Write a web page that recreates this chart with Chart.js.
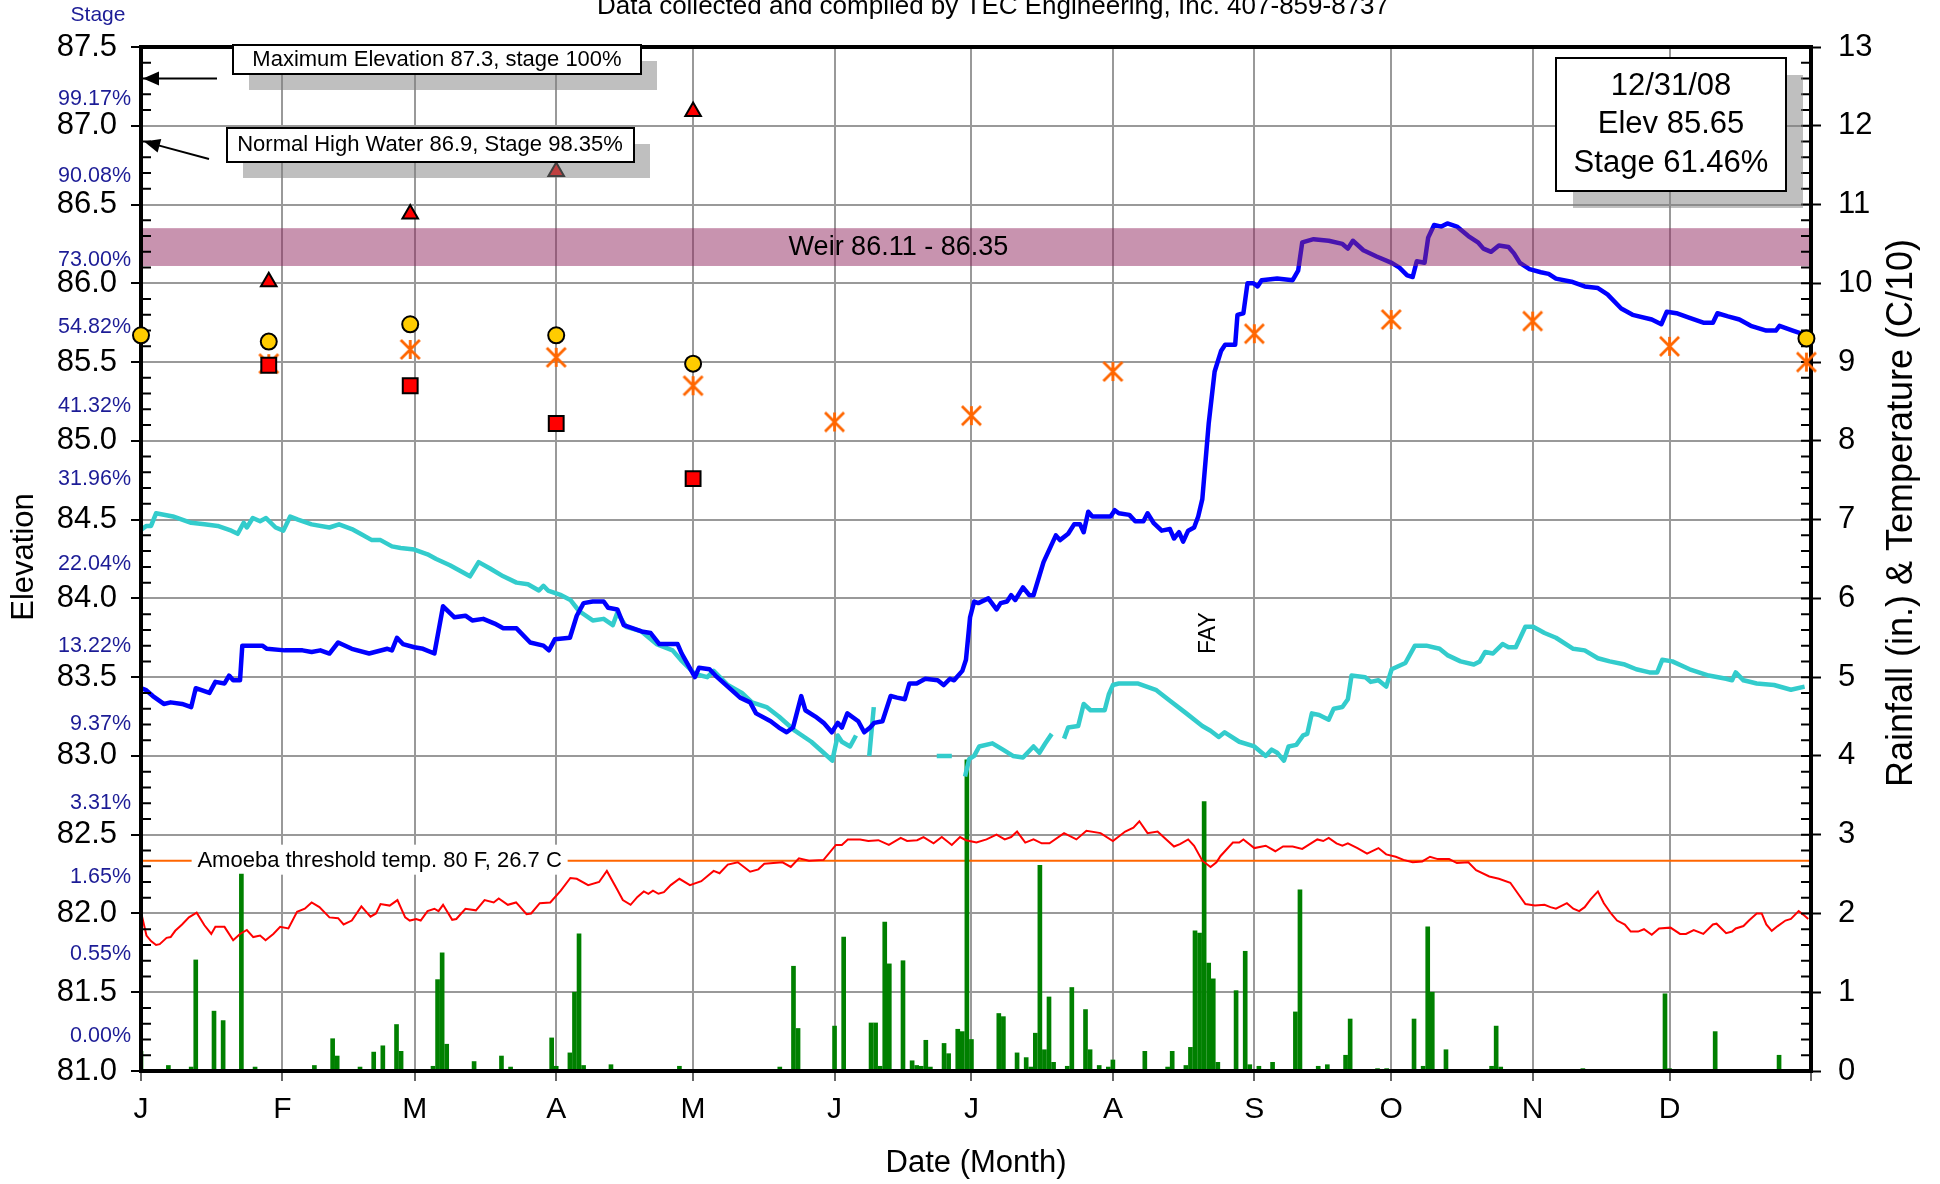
<!DOCTYPE html>
<html>
<head>
<meta charset="utf-8">
<script src="https://cdn.jsdelivr.net/npm/chart.js@4.4.0/dist/chart.umd.min.js"></script>
<style>
  html, body { margin: 0; padding: 0; background: #fff; overflow: hidden; }
</style>
</head>
<body>
<canvas id="lakeChart" width="1940" height="1184"></canvas>
<script>
// ---- data (x = day of year, 0 = Jan 1) ----
const monthStart = [0, 31, 60, 91, 121, 152, 182, 213, 244, 274, 305, 335, 366];
const monthLabels = ["J", "F", "M", "A", "M", "J", "J", "A", "S", "O", "N", "D", ""];

// lake elevation (blue)
const elevDay = [0,1,2.6,5,6.5,9,11,12,15,16.3,18.3,19.3,20.2,21.7,22.2,26.6,27.6,31.5,35.4,37.4,39.3,41.3,43.2,46.2,50,54,55,56.1,57.4,59.9,61.8,64.3,66.2,68.7,71.1,72.6,75,77.5,79.4,82.3,85.3,88.2,89.4,90.7,94,95.5,97,99,101.4,102.4,104.4,105.8,109.7,111.7,113.6,117.6,118.5,121.4,122.3,124.6,125.9,128.6,131.3,133.5,134.8,138,139.8,141.5,142.9,144.7,145.6,147.8,149.6,151.4,152.7,153.6,154.8,157.2,158.5,159.8,160.7,162.5,164.3,165.7,167.4,168.4,170,171.9,174.6,175.9,177.3,178.2,180,180.8,181.7,182.6,183.5,185.7,187.5,188.4,189.8,190.7,191.6,193.3,194.7,195.6,197.8,200.5,201.4,203.2,204.5,205.8,206.6,207.6,208.5,212.5,213.4,214.3,216.6,217.9,219.7,220.6,221.9,223.7,225.5,226.4,227.5,228.4,229.5,230.8,231.7,232.6,234,235.3,236.7,237.6,239.8,240.3,241.6,242.5,243.8,244.7,245.6,249,252.4,253.6,254.5,257,260.3,263.3,264.5,265.6,267.9,270.8,274.1,275.8,277.5,278.7,279.6,281.3,282.1,283.4,285,286.3,288.4,290.9,293,294.2,295.9,297.6,299.7,300.9,302.2,304.3,306.8,308.5,310.1,313.5,316.4,319.3,321.4,324.4,326.9,331.1,333.2,334.4,336.5,339.4,342.4,344.5,345.5,347.8,350.3,352.8,356.2,358.3,359.1,362,365.1];
const elevVal = [83.43,83.42,83.38,83.33,83.34,83.33,83.31,83.43,83.40,83.47,83.46,83.51,83.48,83.48,83.70,83.70,83.68,83.67,83.67,83.66,83.67,83.65,83.72,83.68,83.65,83.68,83.67,83.75,83.71,83.69,83.68,83.65,83.95,83.88,83.89,83.86,83.87,83.84,83.81,83.81,83.72,83.70,83.67,83.74,83.75,83.89,83.97,83.98,83.98,83.94,83.93,83.83,83.79,83.78,83.71,83.71,83.65,83.50,83.56,83.55,83.51,83.44,83.37,83.34,83.27,83.22,83.18,83.15,83.18,83.38,83.29,83.25,83.21,83.15,83.21,83.18,83.27,83.22,83.15,83.18,83.21,83.22,83.38,83.37,83.36,83.46,83.46,83.49,83.48,83.45,83.49,83.48,83.54,83.61,83.88,83.98,83.97,84.00,83.93,83.97,83.98,84.02,83.99,84.07,84.02,84.02,84.23,84.40,84.37,84.41,84.47,84.47,84.42,84.55,84.52,84.52,84.56,84.54,84.53,84.49,84.49,84.54,84.48,84.43,84.44,84.38,84.42,84.36,84.43,84.45,84.52,84.63,85.11,85.44,85.57,85.61,85.61,85.80,85.81,86.00,86.00,85.98,86.02,86.03,86.02,86.08,86.26,86.28,86.27,86.25,86.22,86.27,86.21,86.17,86.13,86.10,86.05,86.04,86.14,86.13,86.29,86.37,86.36,86.38,86.36,86.30,86.26,86.22,86.20,86.24,86.23,86.19,86.13,86.09,86.07,86.06,86.03,86.01,85.98,85.97,85.93,85.84,85.80,85.77,85.74,85.82,85.81,85.78,85.75,85.75,85.81,85.79,85.77,85.73,85.70,85.70,85.73,85.70,85.67];

// second level trace (cyan), null = no reading
const levelDay = [0.2,1.2,2.2,3.3,7,11,13.9,16.8,19.8,21.2,22.5,23.2,24.5,26.1,27.4,29.5,31.2,32.7,34.4,37.4,41.3,43.4,46.2,48.1,50.6,52.5,55,56.9,59.9,62.8,64.7,67.7,69.6,72.1,74,76.5,79.4,82.3,84.8,87.2,88.2,89.2,92.1,94.1,96,99,101.4,103.4,104.4,106.3,109.7,113,116.5,118.3,121.4,124.1,125.5,128.6,131.7,133.9,137.1,139.8,143.3,146.9,149.6,151.5,152.7,153.6,155.4,156.7,157.5,159.6,160.6,161,174.4,177.7,179,180.6,181.5,182.6,183.7,186.6,188.9,191.1,193.3,195.6,196.9,198.2,199.6,200.8,202.3,203.2,205.4,206.6,208.1,211.2,212.1,213,214.3,218.4,222.4,225.5,229.1,232.6,234.4,236.2,237.5,240.7,244,246.5,247.8,249,250.5,251.5,253.2,254.7,255.6,256.6,258.2,260.3,261.4,263.3,264.5,265.3,268.3,269.5,271.2,272.9,274.1,277.1,279.2,281.7,284.6,286.3,289.2,292.1,293.4,294.6,296.3,298.4,299.7,301.3,303.4,305.1,307.6,310.1,313.9,316.4,319.3,321.9,325.2,327.7,330.6,332.3,333.4,335.6,339.4,343.6,347.4,348.7,349.5,351.2,354.1,357.9,361.6,364.6];
const levelVal = [84.44,84.46,84.46,84.54,84.52,84.48,84.47,84.46,84.43,84.41,84.48,84.45,84.51,84.49,84.51,84.45,84.43,84.52,84.50,84.47,84.45,84.47,84.44,84.41,84.37,84.37,84.33,84.32,84.31,84.28,84.25,84.21,84.18,84.14,84.23,84.19,84.14,84.10,84.09,84.05,84.08,84.05,84.02,83.99,83.92,83.86,83.87,83.83,83.91,83.82,83.79,83.71,83.67,83.61,83.52,83.50,83.54,83.45,83.40,83.34,83.31,83.25,83.16,83.09,83.02,82.97,83.13,83.09,83.06,83.13,null,83.00,83.31,null,83.00,83.00,null,82.87,82.98,83.00,83.06,83.08,83.04,83.00,82.99,83.06,83.02,83.08,83.14,null,83.11,83.18,83.19,83.33,83.29,83.29,83.39,83.45,83.46,83.46,83.42,83.35,83.27,83.19,83.16,83.12,83.15,83.09,83.06,83.00,83.04,83.02,82.97,83.06,83.07,83.13,83.14,83.27,83.26,83.23,83.30,83.31,83.36,83.51,83.50,83.47,83.48,83.44,83.55,83.59,83.70,83.70,83.68,83.64,83.60,83.58,83.60,83.66,83.65,83.71,83.69,83.69,83.82,83.82,83.78,83.75,83.68,83.67,83.62,83.60,83.58,83.55,83.53,83.53,83.61,83.60,83.55,83.51,83.49,83.48,83.53,83.48,83.46,83.45,83.42,83.44];

// water temperature, C/10 (red, right axis)
const tempDay = [0,1.2,2.2,3.3,4.1,5.6,6.5,7.5,9,10.5,12.2,13.9,15.4,16.3,18.3,20.2,21.7,23.2,24.6,26.1,27.3,29,30.5,32.3,34.2,35.9,37.4,39.1,41.3,43.2,44.4,46.2,48.3,50.3,51.5,52.5,54.5,56.2,57.9,58.9,60.3,61.3,62.8,64.3,65.2,66.2,68.2,69.1,71.1,73.4,75.3,77.3,78.4,80.4,82.2,84.5,85.5,87.4,89.7,92,94.1,95.5,98,100.4,102.1,104.3,105.6,107.3,108.8,110.2,111.2,112.2,113.4,114.6,116.1,118,120.3,122.8,125.5,126.8,128.6,130.8,133.5,135.3,136.6,140.6,142.4,144.2,146.4,149.6,152.3,153.6,154.9,157.6,159.4,161.6,163.9,166.5,167.9,170.1,171.5,173.7,175.5,177.7,179.5,180.8,183.1,185.3,187.5,189.3,190.7,192,193.8,195.6,197.4,199.1,202.3,205,207.2,210.3,213,215.7,217.5,218.8,220.6,222.8,224.1,226.4,227.7,229.5,230.8,232.6,234.4,235.7,236.6,239.3,240.7,241.6,244,246.5,248.6,250.3,252.4,254.5,257.8,259.1,260.3,262,263.3,264.5,266.6,268.7,271.2,272.9,275,276.7,278.7,280.8,282.5,284.2,286.7,288.4,290.9,292.6,295.5,297.6,300.1,301.8,303.4,305.5,307.6,308.9,310.1,312.5,313.9,315.2,316.4,317.7,319.3,320.6,322.3,323.5,325.2,326.5,328.1,329.4,331.1,332.7,335.2,337.3,338.6,340.3,342.4,344.5,345.3,347.4,348.7,349.5,351.2,352.4,354.1,355.2,356.2,357.4,358.7,360.4,361.6,363.3,364.6,365.4];
const tempVal = [2.02,1.72,1.65,1.60,1.61,1.69,1.70,1.78,1.86,1.95,2.01,1.85,1.74,1.83,1.83,1.66,1.74,1.79,1.70,1.72,1.66,1.74,1.83,1.81,2.02,2.06,2.14,2.08,1.95,1.94,1.86,1.91,2.09,1.96,2.00,2.12,2.10,2.17,1.95,1.91,1.93,1.91,2.03,2.06,2.03,2.11,1.92,1.93,2.06,2.04,2.17,2.14,2.19,2.11,2.14,1.99,2.00,2.13,2.14,2.29,2.45,2.44,2.36,2.40,2.54,2.31,2.17,2.11,2.21,2.28,2.25,2.29,2.25,2.27,2.36,2.44,2.36,2.41,2.54,2.51,2.62,2.65,2.53,2.56,2.63,2.65,2.59,2.70,2.67,2.68,2.87,2.87,2.94,2.94,2.92,2.93,2.87,2.96,2.92,2.93,2.97,2.89,2.97,2.87,2.97,2.93,2.90,2.94,3.00,2.94,2.97,3.04,2.90,2.94,2.89,2.89,3.02,2.94,3.05,3.02,2.92,3.04,3.09,3.17,3.02,3.04,2.97,2.85,2.88,2.94,2.86,2.67,2.59,2.65,2.73,2.90,2.90,2.94,2.83,2.86,2.79,2.85,2.85,2.82,2.94,2.92,2.96,2.89,2.86,2.89,2.83,2.76,2.83,2.75,2.72,2.68,2.65,2.66,2.72,2.69,2.69,2.64,2.65,2.55,2.47,2.44,2.39,2.25,2.12,2.10,2.11,2.08,2.06,2.13,2.06,2.03,2.08,2.18,2.28,2.13,1.99,1.91,1.86,1.77,1.77,1.80,1.73,1.81,1.82,1.74,1.74,1.79,1.74,1.86,1.87,1.75,1.77,1.81,1.84,1.91,2.00,2.00,1.86,1.78,1.84,1.91,1.93,2.03,1.97,1.93];

// daily rainfall, inches (green bars, right axis)
const rainDay = [0,6,11,12,16,18,19,22,25,38,42,43,48,51,53,56,57,63,64,65,66,67,73,79,81,90,91,94,95,96,97,103,118,139,140,143,144,152,154,160,161,162,163,164,167,169,170,171,172,173,176,177,179,180,181,182,188,189,192,193,194,195,196,197,198,199,200,203,204,207,208,210,212,213,220,225,226,229,230,231,232,233,234,235,236,240,242,243,245,248,253,254,258,260,264,265,271,273,279,281,282,283,286,296,297,298,316,334,335,343,345,359,360];
const rainVal = [0.25,0.07,0.05,1.41,0.76,0.64,0.02,2.50,0.05,0.07,0.41,0.19,0.05,0.24,0.32,0.59,0.25,0.02,0.06,1.16,1.50,0.34,0.12,0.19,0.05,0.42,0.06,0.23,1.00,1.74,0.07,0.08,0.06,0.02,0.05,1.33,0.54,0.57,1.70,0.61,0.61,0.06,1.89,1.36,1.40,0.13,0.07,0.06,0.39,0.05,0.35,0.22,0.53,0.50,3.95,0.40,0.73,0.69,0.23,0.02,0.17,0.05,0.48,2.61,0.27,0.94,0.11,0.06,1.06,0.78,0.27,0.07,0.05,0.14,0.25,0.05,0.25,0.07,0.30,1.78,1.75,3.42,1.37,1.17,0.11,1.02,1.52,0.08,0.06,0.11,0.75,2.30,0.06,0.08,0.20,0.66,0.03,0.03,0.66,0.06,1.83,1.00,0.27,0.06,0.57,0.05,0.03,0.98,0.03,0.02,0.50,0.20,0.02];

// monthly markers (elevation axis)
const triDay = [28, 59, 91, 121];
const triVal = [86.01, 86.44, 86.71, 87.09];
const circDay = [0, 28, 59, 91, 121, 365];
const circVal = [85.67, 85.63, 85.74, 85.67, 85.49, 85.65];
const sqDay = [28, 59, 91, 121];
const sqVal = [85.48, 85.35, 85.11, 84.76];
const starDay = [28, 59, 91, 121, 152, 182, 213, 244, 274, 305, 335, 365];
const starVal = [85.49, 85.58, 85.53, 85.35, 85.12, 85.16, 85.44, 85.68, 85.77, 85.76, 85.60, 85.50];

// stage percentages written beside the elevation axis
const stagePct = ["99.17%", "90.08%", "73.00%", "54.82%", "41.32%", "31.96%", "22.04%", "13.22%", "9.37%", "3.31%", "1.65%", "0.55%", "0.00%"];
const stageAt = [87.17, 86.68, 86.15, 85.72, 85.22, 84.76, 84.22, 83.70, 83.20, 82.70, 82.23, 81.74, 81.22];

const weirLow = 86.11, weirHigh = 86.35;
const maxElev = 87.3, normalHigh = 86.9;
const amoebaTemp = 2.67;

const FONT = "'Liberation Sans', Arial, Helvetica, sans-serif";
const xy = (days, vals) => days.map((d, i) => ({ x: d, y: vals[i] }));

// Excel style asterisk marker: an X with a vertical stroke
function makeStar(size, color) {
  const c = document.createElement("canvas");
  c.width = c.height = size;
  const g = c.getContext("2d");
  const m = size / 2, r = size / 2 - 2;
  g.strokeStyle = color;
  g.lineWidth = 2.8;
  g.beginPath();
  g.moveTo(m, m - r); g.lineTo(m, m + r);
  g.moveTo(m - r, m - r); g.lineTo(m + r, m + r);
  g.moveTo(m + r, m - r); g.lineTo(m - r, m + r);
  g.stroke();
  return c;
}

function label(ctx, str, x, y, size, opt = {}) {
  ctx.save();
  ctx.font = size + "px " + FONT;
  ctx.fillStyle = opt.color || "#000";
  ctx.textAlign = opt.align || "center";
  ctx.textBaseline = opt.baseline || "middle";
  ctx.translate(x, y);
  if (opt.rotate) ctx.rotate(opt.rotate);
  ctx.fillText(str, 0, 0);
  ctx.restore();
}

function shadowBox(ctx, x, y, w, h, dx, dy) {
  ctx.fillStyle = "rgba(128,128,128,0.5)";
  ctx.fillRect(x + dx, y + dy, w, h);
  ctx.fillStyle = "#fff";
  ctx.fillRect(x, y, w, h);
  ctx.strokeStyle = "#000";
  ctx.lineWidth = 2;
  ctx.strokeRect(x, y, w, h);
}

function arrow(ctx, x1, y1, x2, y2) {
  const a = Math.atan2(y2 - y1, x2 - x1);
  ctx.strokeStyle = "#000";
  ctx.fillStyle = "#000";
  ctx.lineWidth = 2;
  ctx.beginPath();
  ctx.moveTo(x1, y1);
  ctx.lineTo(x2 - 12 * Math.cos(a), y2 - 12 * Math.sin(a));
  ctx.stroke();
  ctx.beginPath();
  ctx.moveTo(x2, y2);
  ctx.lineTo(x2 - 16 * Math.cos(a) + 7 * Math.sin(a), y2 - 16 * Math.sin(a) - 7 * Math.cos(a));
  ctx.lineTo(x2 - 16 * Math.cos(a) - 7 * Math.sin(a), y2 - 16 * Math.sin(a) + 7 * Math.cos(a));
  ctx.closePath();
  ctx.fill();
}

const ELEV_INDEX = 4;

const decor = {
  id: "decor",
  beforeDatasetsDraw(chart) {
    const { ctx, chartArea: a, scales } = chart;
    // amoeba threshold line + its white label box
    const ty = scales.y2.getPixelForValue(amoebaTemp);
    ctx.save();
    ctx.strokeStyle = "#ff6600";
    ctx.lineWidth = 2;
    ctx.beginPath();
    ctx.moveTo(a.left, ty);
    ctx.lineTo(a.right, ty);
    ctx.stroke();
    const cx = scales.x.getPixelForValue(52.3);
    ctx.fillStyle = "#fff";
    ctx.fillRect(cx - 188, ty - 16, 376, 30);
    label(ctx, "Amoeba threshold temp. 80 F, 26.7 C", cx, ty, 22);
    ctx.restore();
  },
  afterDatasetDraw(chart, args) {
    if (args.index !== ELEV_INDEX) return;
    const { ctx, chartArea: a, scales } = chart;
    ctx.save();
    // weir band, see-through so the lines tint under it
    const y1 = scales.y.getPixelForValue(weirHigh);
    const y2 = scales.y.getPixelForValue(weirLow);
    ctx.fillStyle = "rgba(146,40,96,0.5)";
    ctx.fillRect(a.left, y1, a.right - a.left, y2 - y1);
    label(ctx, "Weir 86.11 - 86.35", scales.x.getPixelForValue(166), (y1 + y2) / 2, 27);

    // minor ticks
    ctx.strokeStyle = "#000";
    ctx.lineWidth = 2;
    ctx.beginPath();
    for (let i = 811; i < 875; i++) {
      if (i % 5 === 0) continue;
      const y = scales.y.getPixelForValue(i / 10);
      ctx.moveTo(a.left, y); ctx.lineTo(a.left + 10, y);
    }
    for (let i = 1; i < 65; i++) {
      const y = scales.y2.getPixelForValue(i / 5);
      ctx.moveTo(a.right - 10, y); ctx.lineTo(a.right, y);
    }
    ctx.stroke();

    // plot frame
    ctx.lineWidth = 4;
    ctx.strokeRect(a.left, a.top, a.right - a.left, a.bottom - a.top);
    ctx.restore();
  },
  afterDatasetsDraw(chart) {
    const { ctx, chartArea: a, scales } = chart;
    ctx.save();
    // reference level call-outs
    shadowBox(ctx, 233, 45, 408, 29, 16, 16);
    label(ctx, "Maximum Elevation 87.3, stage 100%", 437, 60, 22);
    arrow(ctx, 217, scales.y.getPixelForValue(maxElev), a.left + 2, scales.y.getPixelForValue(maxElev));

    shadowBox(ctx, 227, 128, 407, 34, 16, 16);
    label(ctx, "Normal High Water 86.9, Stage 98.35%", 430, 145, 22);
    arrow(ctx, 209, 159, a.left + 3, scales.y.getPixelForValue(normalHigh));

    // latest reading
    shadowBox(ctx, 1556, 58, 230, 133, 17, 17);
    label(ctx, "12/31/08", 1671, 86, 31);
    label(ctx, "Elev 85.65", 1671, 124, 31);
    label(ctx, "Stage 61.46%", 1671, 163, 31);

    // storm tag
    label(ctx, "FAY", scales.x.getPixelForValue(234), scales.y.getPixelForValue(83.78), 23, { rotate: -Math.PI / 2 });
    ctx.restore();
  },
  afterDraw(chart) {
    const { ctx, scales } = chart;
    label(ctx, "Data collected and compiled by TEC Engineering, Inc. 407-859-8737", 993, 14, 26, { baseline: "alphabetic" });
    label(ctx, "Stage", 98, 21, 21, { color: "#1c1c96", baseline: "alphabetic" });
    stagePct.forEach((t, i) => {
      label(ctx, t, 131, scales.y.getPixelForValue(stageAt[i]), 21.5, { color: "#1c1c96", align: "right" });
    });
    label(ctx, "Elevation", 24, 557, 31, { rotate: -Math.PI / 2 });
    label(ctx, "Date (Month)", 976, 1163, 31);
    label(ctx, "Rainfall (in.) & Temperature (C/10)", 1902, 513, 36, { rotate: -Math.PI / 2 });
  },
};

const ctx = document.getElementById("lakeChart").getContext("2d");
new Chart(ctx, {
  type: "line",
  data: {
    datasets: [
      {
        type: "scatter", label: "Max", data: xy(triDay, triVal), yAxisID: "y",
        pointStyle: "triangle", pointRadius: 9, backgroundColor: "#ff0000",
        borderColor: "#000", borderWidth: 2, order: 0,
      },
      {
        type: "scatter", label: "Avg", data: xy(circDay, circVal), yAxisID: "y",
        pointStyle: "circle", pointRadius: 8, backgroundColor: "#ffcc00",
        borderColor: "#000", borderWidth: 2, clip: false, order: 0,
      },
      {
        type: "scatter", label: "Min", data: xy(sqDay, sqVal), yAxisID: "y",
        pointStyle: "rect", pointRadius: 10.5, backgroundColor: "#ff0000",
        borderColor: "#000", borderWidth: 2, order: 0,
      },
      {
        type: "scatter", label: "Star", data: xy(starDay, starVal), yAxisID: "y",
        pointStyle: makeStar(23, "#ff6600"), pointRadius: 10, clip: false, order: 1,
      },
      {
        label: "Elevation", data: xy(elevDay, elevVal), yAxisID: "y",
        borderColor: "#0000ff", borderWidth: 4.5, pointRadius: 0,
        borderJoinStyle: "round", order: 2,
      },
      {
        label: "Level", data: xy(levelDay, levelVal), yAxisID: "y",
        borderColor: "#33cccc", borderWidth: 4.5, pointRadius: 0, spanGaps: false,
        borderJoinStyle: "round", order: 3,
      },
      {
        label: "Temperature", data: xy(tempDay, tempVal), yAxisID: "y2",
        borderColor: "#ff0000", borderWidth: 2, pointRadius: 0, order: 4,
      },
      {
        type: "bar", label: "Rainfall", data: xy(rainDay, rainVal), yAxisID: "y2",
        backgroundColor: "#008000", barThickness: 4, order: 5,
      },
    ],
  },
  options: {
    responsive: false,
    animation: false,
    devicePixelRatio: 1,
    layout: { padding: { top: 47, left: 0, right: 0, bottom: 0 } },
    plugins: { legend: { display: false }, tooltip: { enabled: false } },
    elements: { line: { tension: 0 } },
    scales: {
      x: {
        type: "linear", min: 0, max: 366, offset: false,
        afterBuildTicks: (s) => { s.ticks = monthStart.map((v) => ({ value: v })); },
        afterFit: (s) => { s.height = 113; },
        ticks: {
          callback: (v, i) => monthLabels[i],
          font: { family: FONT, size: 30 }, color: "#000",
          padding: 11, maxRotation: 0, autoSkip: false,
        },
        grid: { offset: false, color: "#999", lineWidth: 2, tickLength: 10, tickColor: "#666" },
        border: { display: false },
      },
      y: {
        position: "left", min: 81, max: 87.5,
        ticks: {
          stepSize: 0.5, callback: (v) => v.toFixed(1),
          font: { family: FONT, size: 31 }, color: "#000", padding: 14,
        },
        afterFit: (s) => { s.width = 141; },
        grid: { color: "#999", lineWidth: 2, tickLength: 10, tickColor: "#000", tickWidth: 2 },
        border: { display: false },
      },
      y2: {
        position: "right", min: 0, max: 13,
        ticks: {
          stepSize: 1, font: { family: FONT, size: 31 }, color: "#000", padding: 17,
        },
        afterFit: (s) => { s.width = 129; },
        grid: { drawOnChartArea: false, tickLength: 10, tickColor: "#000", tickWidth: 2 },
        border: { display: false },
      },
    },
  },
  plugins: [decor],
});
</script>
</body>
</html>
